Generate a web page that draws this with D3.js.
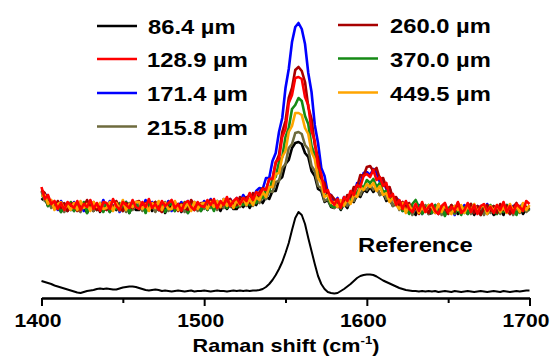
<!DOCTYPE html>
<html><head><meta charset="utf-8">
<script src="https://cdn.jsdelivr.net/npm/d3@7/dist/d3.min.js"></script>
<style>body{margin:0;background:#fff} svg{display:block;font-family:"Liberation Sans",Arial,sans-serif;font-weight:bold}</style>
</head><body>
<svg id="c" width="553" height="356"></svg>
<script>
// Raman shift sampling (cm-1)
const shiftStart = 1400, shiftStep = 2;
const majorTicks = [1400, 1500, 1600, 1700];
const minorTicks = [1450, 1550, 1650];
const seriesLabels = ["86.4 µm", "128.9 µm", "171.4 µm", "215.8 µm", "260.0 µm", "370.0 µm", "449.5 µm"];
const seriesColors = ["#000000", "#ff0000", "#0000ff", "#6e6b3e", "#a80000", "#158a15", "#ffa500"];

const s86 = [98,101,92,97,89,93,86,92,87,93, 87,94,88,93,85,92,87,94,86,92, 93,86,92,88,94,87,95,85,92,88, 88,93,86,95,87,92,88,94,85,93, 92,87,94,86,93,85,93,88,94,87, 94,88,95,89,93,87,94,89,94,89, 89,94,91,96,90,96,93,99,95,101, 99,107,107,118,121,134,138,150,155,156, 154,145,141,127,122,109,107,96,98,91, 90,94,88,94,90,99,96,103,101,108, 106,111,106,111,103,105,97,99,92,94, 93,87,92,85,89,83,92,85,90,84, 85,91,84,90,83,89,85,92,84,89, 91,84,89,83,90,85,91,84,89,83, 85,90,83,92,84,89,85,91,84,89, 88];
const s128 = [111,99,103,94,97,89,95,88,96,93, 90,97,88,94,91,98,89,95,87,96, 95,89,99,92,88,96,93,90,98,91, 89,96,91,99,90,94,88,97,92,95, 98,90,94,87,95,97,91,88,96,92, 91,98,93,99,90,97,93,101,92,97, 100,94,100,97,105,98,106,103,109,108, 119,119,136,139,161,169,195,203,220,221, 219,201,193,167,157,132,124,106,108,98, 93,99,90,101,97,107,103,113,111,122, 124,121,128,118,121,112,115,101,104,93, 98,89,97,89,86,94,87,96,86,91, 94,87,84,92,95,86,91,88,96,85, 88,95,86,93,84,92,94,87,91,85, 93,88,96,86,92,85,94,91,87,97, 94];
const s171 = [104,104,101,92,95,88,97,91,95,88, 96,90,95,87,94,97,89,93,88,98, 89,97,90,95,86,93,96,88,94,91, 94,89,98,90,96,87,93,95,88,97, 87,94,91,96,89,97,88,94,95,90, 97,92,99,92,97,91,99,95,99,94, 100,95,103,98,104,99,107,110,109,120, 120,137,145,166,180,210,229,256,271,275, 269,254,225,206,173,155,130,122,105,103, 96,100,92,101,97,105,103,115,114,125, 126,123,129,125,116,118,109,110,98,100, 97,90,96,86,92,86,93,84,90,92, 87,93,86,90,94,85,91,83,92,88, 93,86,91,84,92,90,85,94,87,92, 86,91,84,93,88,92,85,91,94,87, 90];
const s215 = [107,97,99,90,96,89,94,86,93,88, 95,89,86,94,88,96,87,93,89,94, 88,94,89,96,87,93,86,95,88,92, 94,87,95,89,93,86,94,88,96,87, 89,95,88,94,86,93,89,96,87,94, 89,95,90,96,88,94,90,97,91,96, 95,91,97,92,99,92,98,95,102,99, 107,106,116,117,130,134,150,154,165,166, 164,153,149,132,127,112,110,97,99,92, 90,95,90,97,92,99,97,106,103,111, 108,114,108,112,103,107,99,101,92,97, 88,94,87,92,83,90,92,85,93,84, 91,86,92,83,90,85,93,84,90,86, 85,93,84,90,86,92,83,91,85,92, 90,84,91,86,93,83,90,85,92,86, 89];
const s260 = [108,105,94,96,89,97,90,95,87,94, 95,87,94,91,98,89,96,88,93,90, 88,94,89,97,91,87,95,93,90,96, 97,90,95,88,93,96,89,86,94,91, 89,96,87,94,90,88,98,93,89,95, 95,90,98,92,95,90,97,94,99,92, 93,101,96,101,95,105,99,106,110,108, 119,119,135,143,166,177,200,210,228,231, 227,216,191,179,153,140,119,115,102,103, 99,91,97,94,103,101,111,111,123,122, 131,132,127,130,119,120,110,111,100,101, 93,96,88,95,86,91,84,92,90,85, 92,85,94,87,90,84,93,86,95,88, 86,91,94,85,92,83,90,93,87,92, 85,94,88,92,84,91,95,86,93,91, 89];
const s370 = [102,102,92,97,90,95,86,93,88,96, 87,94,89,96,85,93,92,88,95,86, 94,86,92,89,95,88,96,85,93,94, 89,95,85,94,90,96,88,93,86,92, 95,87,93,88,96,85,94,89,92,87, 95,88,94,87,97,91,96,90,98,92, 91,98,93,100,93,99,95,103,100,108, 107,119,121,136,141,161,170,189,193,200, 197,182,174,152,143,124,119,103,102,92, 91,95,89,97,97,96,106,104,113,110, 118,115,119,111,115,106,107,97,101,93, 96,87,91,84,94,98,91,84,89,93, 85,93,86,91,82,90,92,85,89,83, 91,84,94,86,89,83,91,85,93,87, 84,91,86,93,85,90,83,92,87,91, 88];
const s449 = [102,103,94,98,88,94,96,89,93,88, 95,88,97,90,94,87,96,91,95,89, 90,96,87,95,89,98,88,94,91,96, 96,89,94,87,95,90,97,88,95,89, 89,97,88,93,90,95,87,96,89,94, 95,89,96,91,97,91,99,92,97,90, 98,93,100,93,99,93,101,98,106,101, 111,111,124,125,141,147,166,172,185,185, 183,170,164,146,139,120,115,101,103,95, 96,91,98,92,99,94,103,101,111,108, 114,111,115,107,112,103,105,96,100,93, 89,95,85,93,87,94,85,91,86,93, 91,85,94,86,93,87,84,92,88,93, 85,92,87,94,86,91,93,84,92,87, 93,86,91,85,94,87,92,86,95,88, 93];
const sRef = [17,16,15,14,12.5,11.5,10.5,9.5,8.5,7.5, 6.5,5.5,5,6,7,7.5,8,9,9.5,9, 9.5,9,8.5,8.5,9.5,10.5,11,11.5,11.5,11, 10,9,8,7.5,8,8.5,8,7,7.5,7, 6.5,7,7.5,7,6.5,7,7.5,6.5,7,7, 7.5,7,6.5,7,7.5,7,7,6.5,7,7.5, 7,7.5,7,7.5,7,7.5,7.5,8,9,11, 14,18,23,29,36,45,55,68,80,86, 83,74,60,47,34,22,14,9,6,5, 4.5,5,7,9,11.5,14,17,20,22,23, 23.5,23.5,23,21.5,19.5,17.5,16,14.5,13,11.5, 10,9,8,7.5,7,7,6.5,7,6.5,7, 6.5,7,6,6.5,7,6.5,6,7,6.5,6, 6.5,7,6.5,6,6.5,7,6.5,6,6.5,7, 6.5,6,7,6.5,6,6.5,7,6.5,7,7.5, 7.5];
const seriesData = [s86, s128, s171, s215, s260, s370, s449];
const drawOrder = [2, 0, 3, 5, 4, 6, 1];

const svg = d3.select("#c");
const x = d3.scaleLinear().domain([1400, 1700]).range([41.5, 529.5]);
const y = d3.scaleLinear().domain([0, 300]).range([298, -2]);
const line = d3.line().x((d, i) => x(shiftStart + i * shiftStep)).y(d => y(d));

function stretch(sel, k) {
  sel.each(function () {
    const w = this.getComputedTextLength();
    d3.select(this).attr("textLength", w * k).attr("lengthAdjust", "spacingAndGlyphs");
  });
}

// noisy spectra
drawOrder.forEach(k => {
  svg.append("path").datum(seriesData[k])
    .attr("d", line).attr("fill", "none")
    .attr("stroke", seriesColors[k]).attr("stroke-width", 2.6)
    .attr("stroke-linejoin", "round");
});
// reference spectrum
svg.append("path").datum(sRef).attr("d", line).attr("fill", "none")
  .attr("stroke", "#000").attr("stroke-width", 2).attr("stroke-linejoin", "round");

// axis
const gMinor = svg.append("g").attr("transform", "translate(0,298)")
  .call(d3.axisBottom(x).tickValues(minorTicks).tickSize(5).tickSizeOuter(0).tickFormat(""));
const gMajor = svg.append("g").attr("transform", "translate(0,298)")
  .call(d3.axisBottom(x).tickValues(majorTicks).tickSize(8).tickSizeOuter(0).tickPadding(8).tickFormat(d3.format("d")));
[gMinor, gMajor].forEach(g => {
  g.select(".domain").attr("stroke", "#000").attr("stroke-width", 2.2);
  g.selectAll(".tick line").attr("stroke", "#000").attr("stroke-width", 2);
});
gMajor.selectAll(".tick text").attr("fill", "#000").attr("font-size", 19)
  .attr("font-weight", "bold").attr("font-family", "Liberation Sans, Arial, sans-serif")
  .attr("dx", -4).call(stretch, 1.11);

// axis title
const title = svg.append("text").attr("transform", "translate(286,352) scale(1.2,1)")
  .attr("text-anchor", "middle").attr("font-size", 18).attr("fill", "#000");
title.append("tspan").text("Raman shift (cm");
title.append("tspan").attr("font-size", 11).attr("dy", -8).text("-1");
title.append("tspan").attr("dy", 8).text(")");

// Reference label
svg.append("text").attr("x", 358).attr("y", 251.5).attr("font-size", 21)
  .attr("fill", "#000").text("Reference").call(stretch, 1.13);

// legend
const legendPos = [
  {lx: 97, tx: 148, y: 26}, {lx: 97, tx: 147, y: 59}, {lx: 97, tx: 147, y: 93}, {lx: 97, tx: 147, y: 126.5},
  {lx: 338, tx: 390, y: 25}, {lx: 338, tx: 390, y: 58.5}, {lx: 338, tx: 390, y: 92.5}
];
seriesLabels.forEach((lab, k) => {
  const p = legendPos[k];
  svg.append("line").attr("x1", p.lx).attr("x2", p.lx + 40).attr("y1", p.y).attr("y2", p.y)
    .attr("stroke", seriesColors[k]).attr("stroke-width", 2.5);
  svg.append("text").attr("x", p.tx).attr("y", p.y + 8).attr("font-size", 21)
    .attr("fill", "#000").text(lab).call(stretch, 1.13);
});
</script>
</body></html>
